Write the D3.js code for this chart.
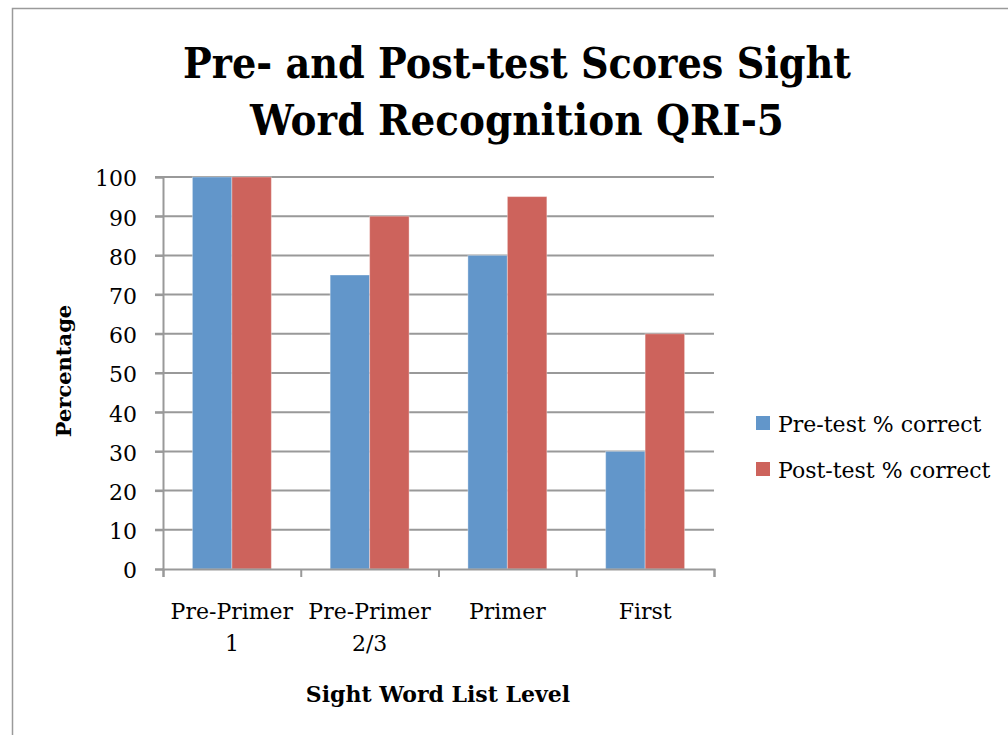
<!DOCTYPE html>
<html>
<head>
<meta charset="utf-8">
<script src="https://cdnjs.cloudflare.com/ajax/libs/d3/7.8.5/d3.min.js"></script>
<style>
  body { margin: 0; background: #fff; }
  text { font-family: "DejaVu Serif", "Liberation Serif", serif; fill: #000; }
</style>
</head>
<body>
<div id="chart"></div>
<script>
// data
const categories = [["Pre-Primer", "1"], ["Pre-Primer", "2/3"], ["Primer"], ["First"]];
const seriesNames = ["Pre-test % correct", "Post-test % correct"];
const preTest = [100, 75, 80, 30];
const postTest = [100, 90, 95, 60];
const yTicks = [0, 10, 20, 30, 40, 50, 60, 70, 80, 90, 100];
const titleLines = ["Pre- and Post-test Scores Sight", "Word Recognition QRI-5"];

const width = 1008, height = 735;
const colors = ["#6296CA", "#CD635C"];
const plot = { left: 163, right: 714, top: 177, bottom: 569 };

const svg = d3.select("#chart")
    .append("svg")
    .attr("width", width)
    .attr("height", height);

// chart frame
svg.append("rect")
    .attr("x", 12.5).attr("y", 8.5)
    .attr("width", 1020).attr("height", 760)
    .attr("fill", "none")
    .attr("stroke", "#9a9a9a")
    .attr("stroke-width", 1.5);

// title
svg.append("g").selectAll("text")
    .data(titleLines)
    .enter()
    .append("text")
    .attr("x", 517)
    .attr("y", (d, i) => 78 + i * 57)
    .attr("text-anchor", "middle")
    .attr("font-size", 43)
    .attr("font-weight", "bold")
    .attr("textLength", (d, i) => i === 0 ? 668 : 534)
    .attr("lengthAdjust", "spacingAndGlyphs")
    .text(d => d);

const x = d3.scaleBand()
    .domain(d3.range(categories.length))
    .range([plot.left, plot.right]);

const xInner = d3.scaleBand()
    .domain([0, 1])
    .range([0, x.bandwidth()])
    .paddingOuter(0.745)
    .paddingInner(0);

const y = d3.scaleLinear()
    .domain([0, 100])
    .range([plot.bottom, plot.top]);

// gridlines
svg.append("g")
    .selectAll("line")
    .data(yTicks.filter(d => d > 0))
    .enter()
    .append("line")
    .attr("x1", plot.left - 8)
    .attr("x2", plot.right)
    .attr("y1", d => y(d))
    .attr("y2", d => y(d))
    .attr("stroke", "#999")
    .attr("stroke-width", 2);

// bars
const series = [preTest, postTest];
const groups = svg.append("g")
    .selectAll("g")
    .data(categories)
    .enter()
    .append("g")
    .attr("transform", (d, i) => `translate(${x(i)},0)`);

groups.selectAll("rect")
    .data((d, i) => series.map((s, k) => ({ k: k, v: s[i] })))
    .enter()
    .append("rect")
    .attr("x", d => xInner(d.k))
    .attr("y", d => y(d.v))
    .attr("width", xInner.bandwidth())
    .attr("height", d => y(0) - y(d.v))
    .attr("fill", d => colors[d.k])
    .attr("stroke", "rgba(255,255,255,0.35)")
    .attr("stroke-width", 1);

// y axis
const yAxis = svg.append("g")
    .attr("transform", `translate(${plot.left},0)`)
    .call(d3.axisLeft(y).tickValues(yTicks).tickSize(8).tickPadding(18));
yAxis.select(".domain").attr("stroke", "#999").attr("stroke-width", 2);
yAxis.selectAll(".tick line").attr("stroke", "#999").attr("stroke-width", 2);
yAxis.selectAll(".tick text")
    .attr("font-size", 22)
    .attr("font-family", "DejaVu Serif, serif")
    .attr("dy", "0.4em")
    .attr("fill", "#000");

// x axis
const xAxis = svg.append("g")
    .attr("transform", `translate(0,${plot.bottom})`)
    .call(d3.axisBottom(d3.scaleLinear().domain([0, categories.length]).range([plot.left, plot.right]))
        .ticks(categories.length).tickSize(8).tickFormat(""));
xAxis.select(".domain").attr("stroke", "#999").attr("stroke-width", 2);
xAxis.selectAll(".tick line").attr("stroke", "#999").attr("stroke-width", 2);

// category labels
const catLabels = svg.append("g")
    .selectAll("text")
    .data(categories)
    .enter()
    .append("text")
    .attr("text-anchor", "middle")
    .attr("font-size", 22)
    .attr("x", (d, i) => x(i) + x.bandwidth() / 2)
    .attr("y", 619);
catLabels.selectAll("tspan")
    .data(d => d)
    .enter()
    .append("tspan")
    .attr("x", function () { return d3.select(this.parentNode).attr("x"); })
    .attr("dy", (d, i) => i === 0 ? 0 : 32)
    .text(d => d);

// axis titles
svg.append("text")
    .attr("x", 438)
    .attr("y", 702)
    .attr("text-anchor", "middle")
    .attr("font-size", 22)
    .attr("font-weight", "bold")
    .text("Sight Word List Level");

svg.append("text")
    .attr("transform", "translate(71,371) rotate(-90)")
    .attr("text-anchor", "middle")
    .attr("font-size", 21)
    .attr("font-weight", "bold")
    .text("Percentage");

// legend
const legend = svg.append("g")
    .selectAll("g")
    .data(seriesNames)
    .enter()
    .append("g")
    .attr("transform", (d, i) => `translate(756,${416 + i * 46})`);
legend.append("rect")
    .attr("width", 14)
    .attr("height", 14)
    .attr("fill", (d, i) => colors[i]);
legend.append("text")
    .attr("x", 22)
    .attr("y", 16)
    .attr("font-size", 22)
    .text(d => d);
</script>
</body>
</html>
